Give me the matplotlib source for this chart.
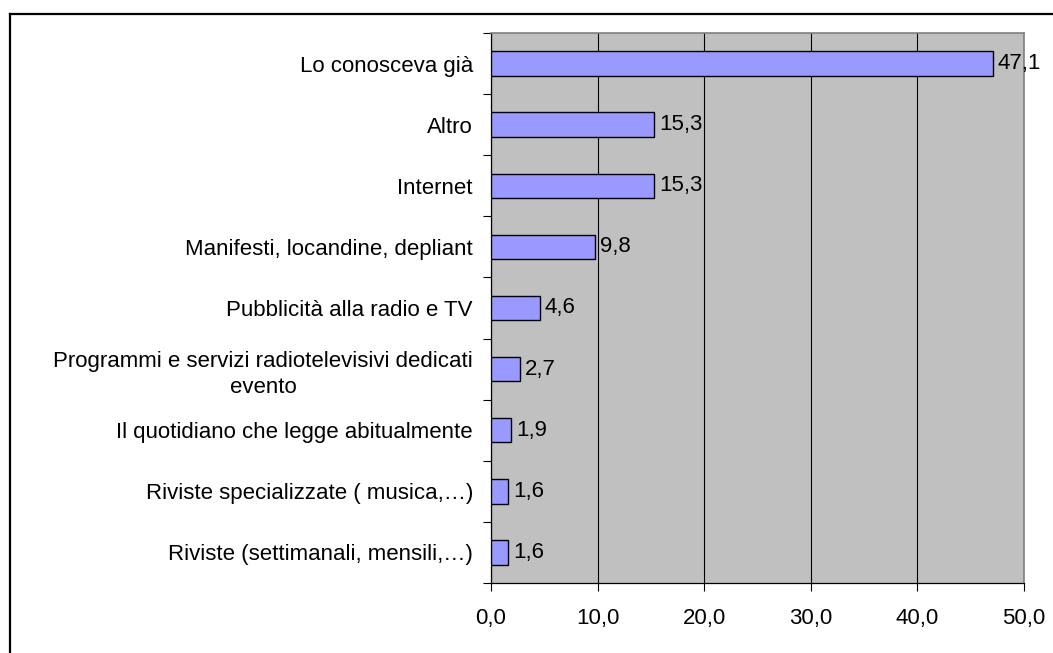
import matplotlib
matplotlib.use("Agg")
import matplotlib.pyplot as plt
from matplotlib.lines import Line2D
import numpy as np

categories = [
    "Lo conosceva già",
    "Altro",
    "Internet",
    "Manifesti, locandine, depliant",
    "Pubblicità alla radio e TV",
    "Programmi e servizi radiotelevisivi dedicati\nevento",
    "Il quotidiano che legge abitualmente",
    "Riviste specializzate ( musica,…)",
    "Riviste (settimanali, mensili,…)",
]
values = [47.1, 15.3, 15.3, 9.8, 4.6, 2.7, 1.9, 1.6, 1.6]
xticks = [0, 10, 20, 30, 40, 50]

plt.rcParams["font.family"] = ["Liberation Sans", "DejaVu Sans"]
FS = 16

W, H = 1053, 653
fig = plt.figure(figsize=(W / 100, H / 100), dpi=100)
fig.patch.set_facecolor("white")

left, right, top, bottom = 491, 1024, 33, 583
ax = fig.add_axes([left / W, 1 - bottom / H, (right - left) / W, (bottom - top) / H])
ax.set_facecolor("#C0C0C0")

n = len(categories)
y = np.arange(n)
ax.barh(y, values, height=0.4, color="#9999FF", edgecolor="black", linewidth=1.0, zorder=3)

for yi, v in zip(y, values):
    ax.annotate(f"{v:.1f}".replace(".", ","), xy=(v, yi), xytext=(3.5, 0),
                textcoords="offset points", ha="left", va="center",
                fontsize=FS, zorder=4)

ax.set_xlim(0, 50)
ax.set_ylim(n - 0.5, -0.5)

ax.set_xticks(xticks)
ax.set_xticklabels([f"{t:.1f}".replace(".", ",") for t in xticks], fontsize=FS)
ax.tick_params(axis="x", direction="out", length=6, width=0.8, pad=12, colors="black")

ax.set_yticks(y)
ax.set_yticklabels(categories, fontsize=FS, multialignment="center", linespacing=1.35)
ax.set_yticks(np.arange(-0.5, n, 1.0), minor=True)
ax.tick_params(axis="y", which="major", length=0, pad=13)
ax.tick_params(axis="y", which="minor", direction="out", length=6, width=0.8)

ax.grid(axis="x", color="black", linewidth=0.8, zorder=1)
ax.set_axisbelow(True)

ax.spines["left"].set_color("black")
ax.spines["bottom"].set_color("black")
ax.spines["left"].set_linewidth(0.9)
ax.spines["bottom"].set_linewidth(0.9)
ax.spines["top"].set_color("#808080")
ax.spines["right"].set_color("#808080")
ax.spines["top"].set_linewidth(1.2)
ax.spines["right"].set_linewidth(1.2)

# Frame lines on the left and top of the figure
fig.add_artist(Line2D([9.5 / W, 9.5 / W], [0, 1 - 13.5 / H], transform=fig.transFigure,
                      color="black", linewidth=1.6))
fig.add_artist(Line2D([9.5 / W, 1.0], [1 - 13.5 / H, 1 - 13.5 / H], transform=fig.transFigure,
                      color="black", linewidth=1.6))

fig.savefig("out.png", dpi=100)
